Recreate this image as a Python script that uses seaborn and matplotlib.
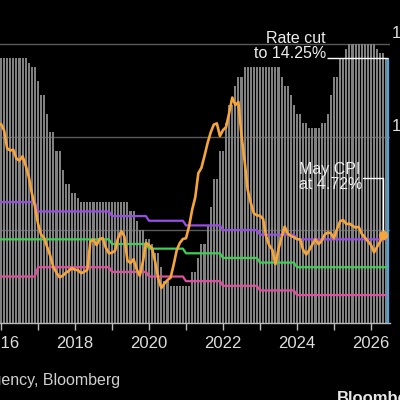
import pandas as pd
import matplotlib
matplotlib.use("Agg")
import matplotlib.pyplot as plt
import matplotlib.transforms as mtransforms
import seaborn as sns

# -----------------------------
# DATA (monthly, Jan 2016 onwards)
# -----------------------------
# Selic policy rate, % (end of month)
selic_rate = (
    [14.25] * 9 + [14.0, 13.75, 13.75]                                       # 2016
    + [13.0, 12.25, 12.25, 11.25, 10.25, 10.25, 9.25, 9.25, 8.25, 7.5, 7.5, 7.0]  # 2017
    + [7.0, 6.75] + [6.5] * 10                                               # 2018
    + [6.5] * 6 + [6.0, 6.0, 5.5, 5.0, 5.0, 4.5]                             # 2019
    + [4.5, 4.25, 3.75, 3.75, 3.0, 2.25, 2.25] + [2.0] * 5                   # 2020
    + [2.0, 2.0, 2.75, 2.75, 3.5, 4.25, 4.25, 5.25, 6.25, 7.75, 7.75, 9.25]  # 2021
    + [9.25, 10.75, 11.75, 11.75, 12.75, 13.25, 13.25] + [13.75] * 5         # 2022
    + [13.75] * 7 + [13.25, 12.75, 12.75, 12.25, 11.75]                      # 2023
    + [11.25, 11.25, 10.75, 10.75, 10.5, 10.5, 10.5, 10.5, 10.75, 10.75, 11.25, 12.25]  # 2024
    + [13.25, 13.25, 14.25, 14.25, 14.75] + [15.0] * 7                       # 2025
    + [15.0, 15.0, 14.75, 14.5, 14.5, 14.25]                                 # 2026
)

# IPCA inflation, % y/y
cpi_yoy = [
    10.71, 10.36, 9.39, 9.28, 9.32, 8.84, 8.74, 8.97, 8.48, 7.87, 6.99, 6.29,
    5.35, 4.76, 4.57, 4.08, 3.60, 3.00, 2.71, 2.46, 2.54, 2.70, 2.80, 2.95,
    2.86, 2.84, 2.68, 2.76, 2.86, 4.39, 4.48, 4.19, 4.53, 4.56, 4.05, 3.75,
    3.78, 3.89, 4.58, 4.94, 4.66, 3.37, 3.22, 3.43, 2.89, 2.54, 3.27, 4.31,
    4.19, 4.01, 3.30, 2.40, 1.88, 2.13, 2.31, 2.44, 3.14, 3.92, 4.31, 4.52,
    4.56, 5.20, 6.10, 6.76, 8.06, 8.35, 8.99, 9.68, 10.25, 10.67, 10.74, 10.06,
    10.38, 10.54, 11.30, 12.13, 11.73, 11.89, 10.07, 8.73, 7.17, 6.47, 5.90, 5.79,
    5.77, 5.60, 4.65, 4.18, 3.94, 3.16, 3.99, 4.61, 5.19, 4.82, 4.68, 4.62,
    4.51, 4.50, 3.93, 3.69, 3.93, 4.23, 4.50, 4.24, 4.42, 4.76, 4.87, 4.83,
    4.56, 5.06, 5.48, 5.53, 5.32, 5.35, 5.23, 5.13, 5.17, 4.80, 4.60, 4.40,
    4.20, 3.80, 4.10, 4.40, 4.72,
]

# inflation target and tolerance band by calendar year
target_years = [2016, 2017, 2018, 2019, 2020, 2021, 2022, 2023, 2024, 2025, 2026]
target_mid = [4.5, 4.5, 4.5, 4.25, 4.0, 3.75, 3.5, 3.25, 3.0, 3.0, 3.0]
target_upper = [6.5, 6.0, 6.0, 5.75, 5.5, 5.25, 5.0, 4.75, 4.5, 4.5, 4.5]
target_lower = [2.5, 3.0, 3.0, 2.75, 2.5, 2.25, 2.0, 1.75, 1.5, 1.5, 1.5]

year_ticks = list(range(2016, 2027))
year_labels = [str(y) if y % 2 == 0 else "" for y in year_ticks]
last_decision = pd.Timestamp("2026-06-17")

# -----------------------------
# DATA PROCESSING
# -----------------------------
months = pd.date_range("2016-01-01", periods=len(selic_rate), freq="MS")
df = pd.DataFrame({
    "t": months.year + (months.month - 1) / 12,
    "year": months.year,
    "selic": selic_rate,
})
tgt = pd.DataFrame({"year": target_years, "mid": target_mid,
                    "upper": target_upper, "lower": target_lower})
df = df.merge(tgt, on="year", how="left")
df_cpi = df.iloc[:len(cpi_yoy)].copy()
df_cpi["cpi"] = cpi_yoy
t_decision = last_decision.year + (last_decision.dayofyear - 1) / 365

# -----------------------------
# PLOT
# -----------------------------
sns.set_theme(style="dark", rc={"figure.facecolor": "black", "axes.facecolor": "black",
                                "savefig.facecolor": "black"})
plt.rcParams["font.family"] = ["Liberation Sans", "DejaVu Sans"]

fig = plt.figure(figsize=(4, 4), dpi=100)
ax = fig.add_axes([0, 77 / 400, 389.5 / 400, 316 / 400])

sns.barplot(data=df, x="t", y="selic", native_scale=True, width=0.7,
            color="#818181", saturation=1, errorbar=None, linewidth=0, ax=ax, zorder=1)

sns.lineplot(data=df, x="t", y="upper", color="#9a4de6", linewidth=1.6, ax=ax, zorder=3)
sns.lineplot(data=df, x="t", y="mid", color="#3fcf55", linewidth=1.6, ax=ax, zorder=3)
sns.lineplot(data=df, x="t", y="lower", color="#e04fa0", linewidth=1.6, ax=ax, zorder=3)
sns.lineplot(data=df_cpi, x="t", y="cpi", color="#f5a53a", linewidth=1.9, ax=ax, zorder=4)
last = df_cpi.iloc[[-1]]
sns.scatterplot(data=last, x="t", y="cpi", color="#f5a53a", s=45, linewidth=0,
                ax=ax, zorder=5)

# latest decision marker and annotations
ax.vlines(t_decision, 0, df["selic"].iloc[-1], color="#4aa6e0", linewidth=1.6, zorder=4)
ax.hlines(df["selic"].iloc[-1], 2024.81, t_decision, color="white", linewidth=1, zorder=4)
ax.text(2024.78, 14.9, "Rate cut\nto 14.25%", ha="right", va="center", ma="right",
        fontsize=11.5, linespacing=1.05, color="#eeeeee", zorder=6)
t_last, v_last = last["t"].iloc[0], last["cpi"].iloc[0]
ax.plot([2025.79, t_last, t_last], [7.8, 7.8, v_last], color="white", linewidth=1, zorder=4)
ax.text(2025.78, 7.85, "May CPI\nat 4.72%", ha="right", va="center", ma="left",
        fontsize=11.5, linespacing=1.05, color="#eeeeee", zorder=6)

# axes styling
ax.set_xlim(2016 - 1 / 37, 2026.5)
ax.set_ylim(0, 17)
ax.set_xlabel("")
ax.set_ylabel("")
ax.set_xticks(year_ticks)
ax.set_xticklabels(year_labels)
ax.tick_params(axis="x", direction="out", length=5, width=1, color="#bbbbbb",
               labelsize=12, labelcolor="#dddddd", pad=4, bottom=True)
ax.set_yticks([5, 10, 15])
ax.tick_params(axis="y", length=0, labelleft=False, labelright=False)
ax.grid(axis="y", color="#5a5a5a", linewidth=1)
ax.grid(axis="x", visible=False)
ax.set_axisbelow(True)
for side in ["top", "left", "right"]:
    ax.spines[side].set_visible(False)
ax.spines["bottom"].set_color("#bbbbbb")
ax.spines["bottom"].set_linewidth(1)

# right-hand axis labels sit above their gridlines (cropped at the edge, as in the source)
trans = mtransforms.blended_transform_factory(ax.transAxes, ax.transData)
for v in [5, 10, 15]:
    ax.text(425 / 389.5, v + 0.35, f"{v}%", transform=trans, ha="right", va="baseline",
            fontsize=12, color="#dddddd", clip_on=False)

fig.text(120 / 400, 1 - 385 / 400,
         "Source: Brazil Central Bank, IBGE statistics agency, Bloomberg",
         ha="right", va="baseline", fontsize=11.5, color="#d0d0d0")
fig.text(337 / 400, 1 - 391 / 400, "Bloomberg", ha="left", va="top",
         fontsize=12, fontweight="bold", color="#e6e6e6")

plt.savefig("out.png", dpi=100)
